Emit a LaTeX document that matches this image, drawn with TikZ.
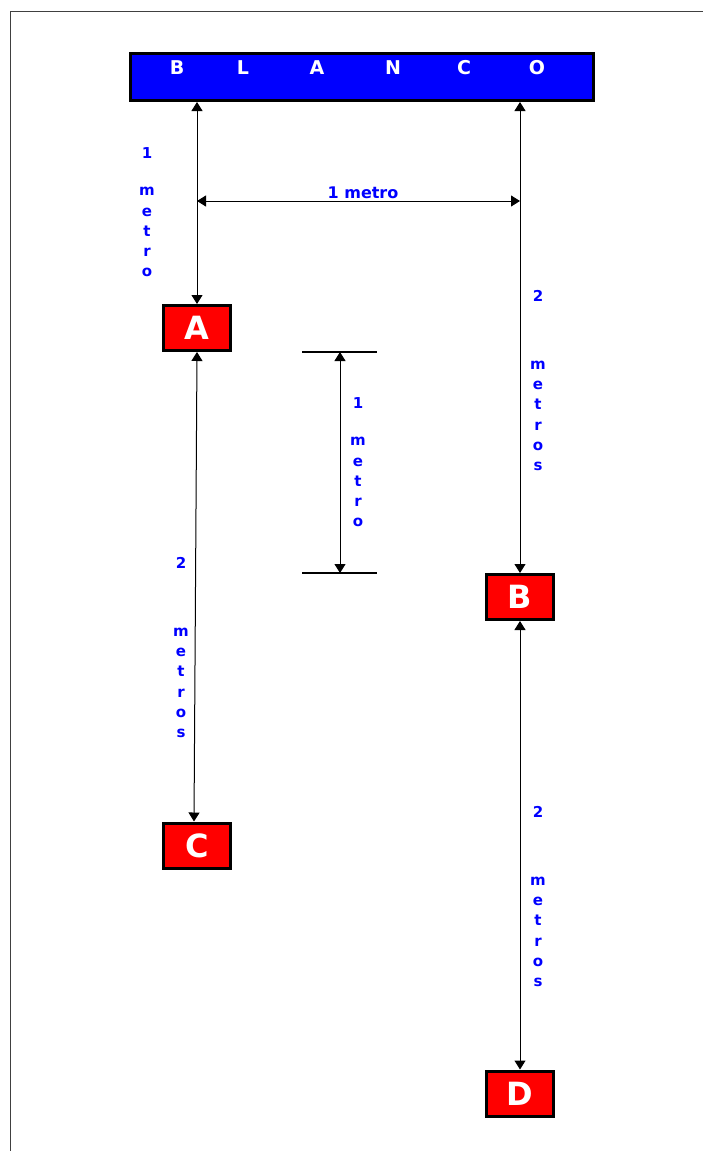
\documentclass[tikz,border=0pt]{standalone}
\usepackage{fontspec}
\setmainfont{DejaVu Sans}
\usetikzlibrary{arrows.meta}
\begin{document}
\begin{tikzpicture}[x=1pt,y=-1pt,
  framel/.style={draw=black!75,line width=1pt},
  bluebox/.style={draw=black,line width=3pt,fill=blue,minimum width=463pt,minimum height=47pt,inner sep=0pt},
  title/.style={text=white,inner sep=0pt,font=\bfseries\fontsize{19}{19}\selectfont},
  redbox/.style={draw=black,line width=3pt,fill=red,minimum width=67pt,minimum height=45pt,inner sep=0pt,text=white,font=\bfseries\fontsize{32}{32}\selectfont},
  lbl/.style={text=blue,font=\bfseries\fontsize{15}{20.2}\selectfont,align=center,inner sep=0pt,anchor=north},
  hlbl/.style={text=blue,font=\bfseries\fontsize{16}{16}\selectfont,inner sep=0pt},
  dimarrow/.style={{Triangle[length=9pt,width=11pt]}-{Triangle[length=9pt,width=11pt]},line width=1pt},
  tick/.style={line width=1.2pt}]
\useasboundingbox (0,0) rectangle (703,1151);
\draw[framel] (10,1151) -- (10,11) -- (703,11);
% boxes
\node[bluebox] (blanco) at (362,77) {};
\foreach \l/\x in {B/177,L/243,A/317,N/393,C/464,O/537}
  \node[title] (t\l) at (\x,68) {\l};
\node[redbox] (A) at (197,328) {A};
\node[redbox] (C) at (197,845.5) {C};
\node[redbox] (B) at (520,597) {B};
\node[redbox] (D) at (520,1093.5) {D};
% connectors
\draw[dimarrow] (blanco.south -| A.north) -- (A.north);
\draw[dimarrow] (blanco.south -| B.north) -- (B.north);
\draw[dimarrow] (A.south) -- ([xshift=-3pt]C.north);
\draw[dimarrow] (B.south) -- (D.north);
\coordinate (h1) at (197,201);
\coordinate (h2) at (520,201);
\draw[dimarrow] (h1) -- (h2);
\node[hlbl] (lh) at (363,193) {1 metro};
% middle dimension
\coordinate (t1a) at (302,352);
\coordinate (t1b) at (377,352);
\coordinate (t2a) at (302,573);
\coordinate (t2b) at (377,573);
\coordinate (m1) at (340,352);
\coordinate (m2) at (340,573);
\draw[tick] (t1a) -- (t1b);
\draw[tick] (t2a) -- (t2b);
\draw[dimarrow] (m1) -- (m2);
% vertical labels
\node[lbl] (l1) at (147,147) {1\\[17.5pt]m\\e\\t\\r\\o};
\node[lbl] (l2) at (358,397) {1\\[17.5pt]m\\e\\t\\r\\o};
\node[lbl] (l3) at (181,557) {2\\[48pt]m\\e\\t\\r\\o\\s};
\node[lbl] (l4) at (538,290) {2\\[48pt]m\\e\\t\\r\\o\\s};
\node[lbl] (l5) at (538,806) {2\\[48pt]m\\e\\t\\r\\o\\s};
\end{tikzpicture}
\end{document}
